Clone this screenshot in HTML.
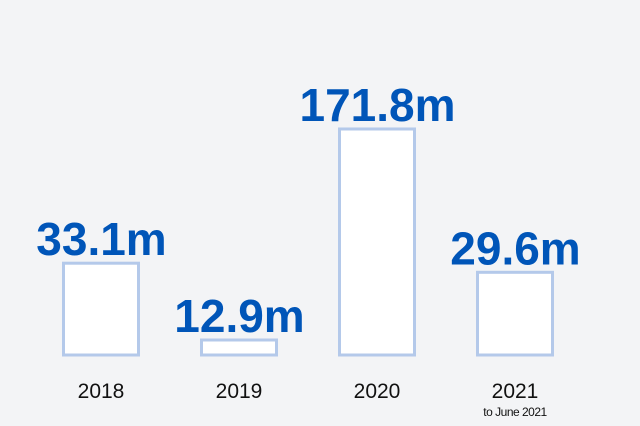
<!DOCTYPE html>
<html><head><meta charset="utf-8"><style>
html,body{margin:0;padding:0;background:#f3f4f6;}
svg{display:block;font-family:"Liberation Sans",sans-serif;}
</style></head><body>
<svg id="chart" width="640" height="426" viewBox="0 0 640 426">
<rect width="640" height="426" fill="#f3f4f6"/>
</svg>
<script>
const categories = ["2018", "2019", "2020", "2021"];
const values = [33.1, 12.9, 171.8, 29.6];
const valueLabels = ["33.1m", "12.9m", "171.8m", "29.6m"];
const subLabels = ["", "", "", "to June 2021"];

const svg = document.getElementById('chart');
const NS = 'http://www.w3.org/2000/svg';
const baseY = 355, barW = 78, x0 = 101, step = 138;
function xScale(i){ return x0 + i*step; }
// illustrative log-like scale matching reference proportions
function hScale(v){ return Math.max(4, 15 + 81.5*(Math.log(v) - Math.log(12.9))); }

categories.forEach((c, i) => {
  const cx = xScale(i), h = hScale(values[i]), top = baseY - h;
  const r = document.createElementNS(NS, 'rect');
  
  
  r.setAttribute('x', cx - barW/2 + 1.5); r.setAttribute('y', top);
  r.setAttribute('width', barW - 3); r.setAttribute('height', h);
  r.setAttribute('fill', '#ffffff'); r.setAttribute('stroke', '#b4c9ea'); r.setAttribute('stroke-width', 3);
  svg.appendChild(r);

  const t = document.createElementNS(NS, 'text');
  
  
  t.setAttribute('x', cx + 0.5); t.setAttribute('y', top - 8);
  t.setAttribute('text-anchor', 'middle'); t.setAttribute('font-size', 46);
  t.setAttribute('font-weight', 'bold'); t.setAttribute('fill', '#0055b8');
  t.textContent = valueLabels[i];
  svg.appendChild(t);

  const y = document.createElementNS(NS, 'text');
  
  
  y.setAttribute('x', cx); y.setAttribute('y', 398);
  y.setAttribute('text-anchor', 'middle'); y.setAttribute('font-size', 21);
  y.setAttribute('fill', '#111');
  y.textContent = c;
  svg.appendChild(y);

  if (subLabels[i]) {
    const s = document.createElementNS(NS, 'text');
    
    
    s.setAttribute('x', cx); s.setAttribute('y', 416);
    s.setAttribute('text-anchor', 'middle'); s.setAttribute('font-size', 12);
    s.setAttribute('fill', '#111'); s.setAttribute('letter-spacing', '-0.5');
    s.textContent = subLabels[i];
    svg.appendChild(s);
  }
});
</script>
</body></html>
